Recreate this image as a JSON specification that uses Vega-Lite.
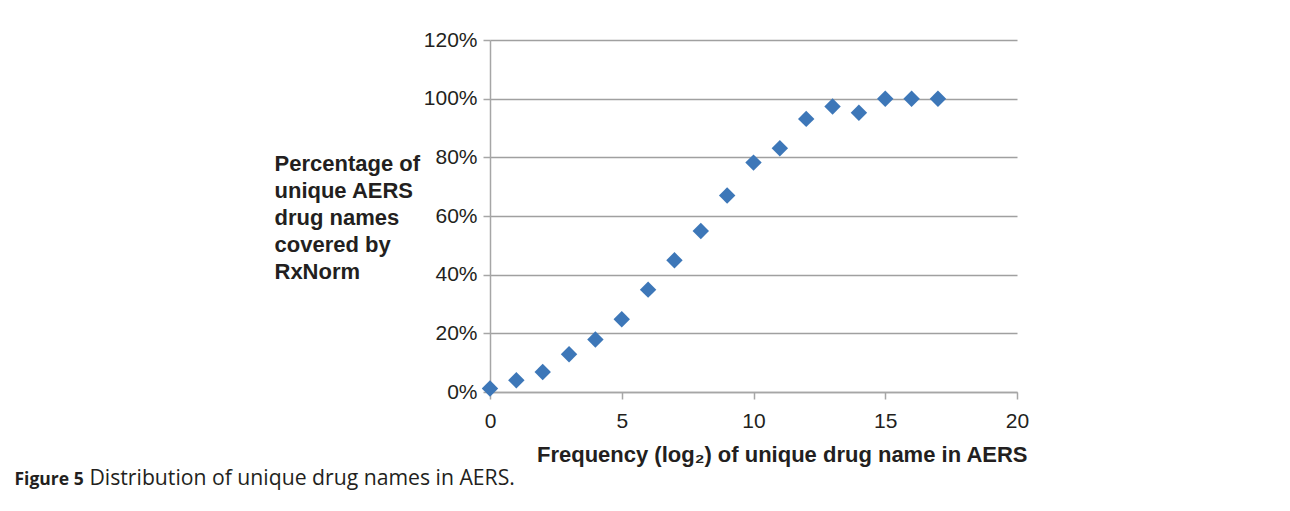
{
  "$schema": "https://vega.github.io/schema/vega-lite/v6.json",
  "width": 527,
  "height": 352,
  "autosize": {"type": "none"},
  "padding": {"left": 490, "top": 40, "right": 273, "bottom": 119},
  "background": "white",
  "config": {
    "view": {"stroke": null},
    "font": "Liberation Sans"
  },
  "data": {
    "values": [
      {"freq": 0, "pct": 0.012},
      {"freq": 1, "pct": 0.04},
      {"freq": 2, "pct": 0.068},
      {"freq": 3, "pct": 0.129},
      {"freq": 4, "pct": 0.179},
      {"freq": 5, "pct": 0.248},
      {"freq": 6, "pct": 0.349},
      {"freq": 7, "pct": 0.449},
      {"freq": 8, "pct": 0.549},
      {"freq": 9, "pct": 0.67},
      {"freq": 10, "pct": 0.782},
      {"freq": 11, "pct": 0.831},
      {"freq": 12, "pct": 0.931},
      {"freq": 13, "pct": 0.973},
      {"freq": 14, "pct": 0.952},
      {"freq": 15, "pct": 1.0},
      {"freq": 16, "pct": 1.0},
      {"freq": 17, "pct": 1.0}
    ]
  },
  "resolve": {"scale": {"x": "independent", "y": "independent"}},
  "layer": [
    {
      "mark": {"type": "point", "shape": "diamond", "filled": true, "size": 270, "color": "#3d77b8", "opacity": 1},
      "encoding": {
        "x": {
          "field": "freq", "type": "quantitative",
          "scale": {"domain": [0, 20], "nice": false, "zero": false},
          "axis": {
            "orient": "bottom",
            "values": [0, 5, 10, 15, 20],
            "grid": false,
            "labelFlush": false,
            "domainColor": "#a6a6a6", "domainWidth": 1.5,
            "tickColor": "#a6a6a6", "tickWidth": 1.5, "tickSize": 7,
            "labelFont": "Liberation Sans", "labelFontSize": 21, "labelColor": "#231f20", "labelPadding": 11,
            "title": "Frequency (log₂) of unique drug name in AERS",
            "titleFont": "Liberation Sans", "titleFontSize": 22, "titleFontWeight": "bold", "titleColor": "#231f20",
            "titleAlign": "right", "titleBaseline": "alphabetic", "titleAnchor": "end",
            "titleX": 537, "titleY": 69
          }
        },
        "y": {
          "field": "pct", "type": "quantitative",
          "scale": {"domain": [0, 1.2], "nice": false},
          "axis": {
            "orient": "left",
            "values": [0, 0.2, 0.4, 0.6, 0.8, 1.0, 1.2],
            "format": ".0%",
            "labelFlush": false,
            "grid": true, "gridColor": "#a0a0a0", "gridWidth": 1.5, "gridOpacity": 1,
            "domainColor": "#a6a6a6", "domainWidth": 1.5,
            "tickColor": "#a6a6a6", "tickWidth": 1.5, "tickSize": 7,
            "labelFont": "Liberation Sans", "labelFontSize": 21, "labelColor": "#231f20", "labelPadding": 6,
            "title": ["Percentage of", "unique AERS", "drug names", "covered by", "RxNorm"],
            "titleFont": "Liberation Sans", "titleFontSize": 22, "titleFontWeight": "bold", "titleColor": "#231f20",
            "titleAngle": 0, "titleAlign": "left", "titleBaseline": "alphabetic",
            "titleX": -216, "titleY": 130, "titleLineHeight": 27
          }
        }
      }
    },
    {
      "mark": {"type": "point", "opacity": 0},
      "encoding": {
        "x": {
          "field": "freq", "type": "quantitative",
          "axis": {
            "orient": "top", "domain": false, "ticks": false, "labels": false, "grid": false,
            "title": "Figure 5",
            "titleFont": "Open Sans", "titleFontSize": 17.5, "titleFontWeight": "bold", "titleColor": "#231f20",
            "titleAlign": "left", "titleBaseline": "alphabetic", "titleAnchor": "start",
            "titleX": -476, "titleY": 444
          }
        },
        "y": {
          "field": "pct", "type": "quantitative",
          "axis": {
            "orient": "right", "domain": false, "ticks": false, "labels": false, "grid": false,
            "title": "Distribution of unique drug names in AERS.",
            "titleFont": "Open Sans", "titleFontSize": 21.2, "titleFontWeight": "normal", "titleColor": "#231f20",
            "titleAngle": 0, "titleAlign": "left", "titleBaseline": "alphabetic",
            "titleX": -928, "titleY": 444
          }
        }
      }
    }
  ]
}
